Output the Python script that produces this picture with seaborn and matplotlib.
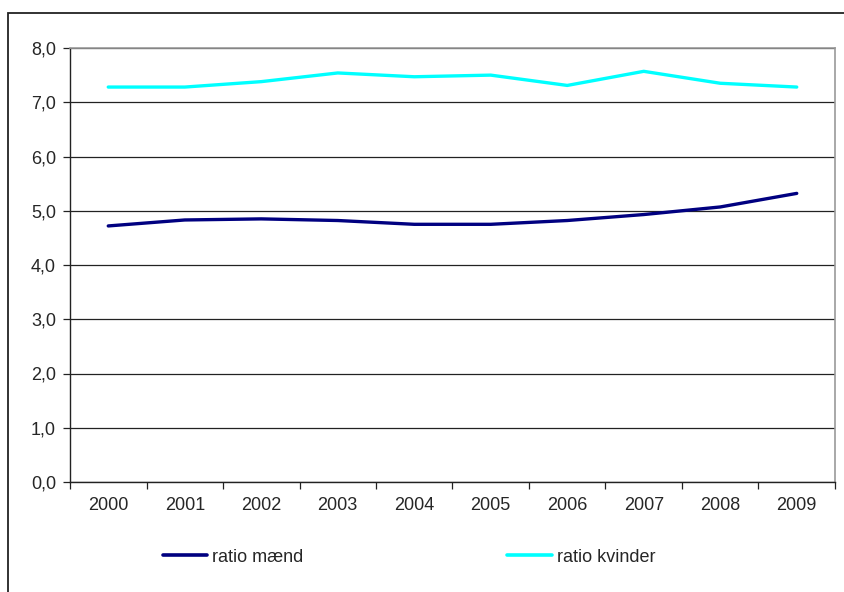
import numpy as np
import pandas as pd
import matplotlib
matplotlib.use('Agg')
import matplotlib.pyplot as plt
import seaborn as sns
from matplotlib.patches import Rectangle
from matplotlib.ticker import FixedLocator, FuncFormatter

sns.set_style('white')
plt.rcParams['font.family'] = ['Liberation Sans', 'DejaVu Sans']

years = ['2000', '2001', '2002', '2003', '2004', '2005', '2006', '2007', '2008', '2009']
ratio_maend = [4.72, 4.83, 4.85, 4.82, 4.75, 4.75, 4.82, 4.93, 5.07, 5.32]
ratio_kvinder = [7.28, 7.28, 7.38, 7.54, 7.47, 7.50, 7.31, 7.57, 7.35, 7.28]
series_names = ['ratio mænd', 'ratio kvinder']
colors = ['#000080', '#00FFFF']

# long format for seaborn
df = pd.DataFrame({
    'pos': list(range(len(years))) * 2,
    'ratio': ratio_maend + ratio_kvinder,
    'serie': [series_names[0]] * len(years) + [series_names[1]] * len(years),
})

fig = plt.figure(figsize=(8.45, 5.92), dpi=100)
ax = fig.add_axes([70/845, 1-482/592, 765/845, 434/592])

sns.lineplot(data=df, x='pos', y='ratio', hue='serie', palette=dict(zip(series_names, colors)),
             linewidth=2.4, ax=ax, legend=False)

ax.set_xlim(-0.5, len(years) - 0.5)
ax.set_ylim(0, 8)
ax.set_xlabel('')
ax.set_ylabel('')

# y axis: gridlines at each whole number, comma decimals
ax.set_yticks(np.arange(0, 9, 1))
ax.yaxis.set_major_formatter(FuncFormatter(lambda v, p: f'{v:.1f}'.replace('.', ',')))
ax.grid(axis='y', color='#222222', linewidth=0.9)
ax.set_axisbelow(True)

# x axis: tick marks between categories, labels centred
ax.xaxis.set_major_locator(FixedLocator(np.arange(-0.5, len(years), 1)))
ax.xaxis.set_major_formatter(FuncFormatter(lambda v, p: ''))
ax.xaxis.set_minor_locator(FixedLocator(np.arange(len(years))))
ax.set_xticklabels(years, minor=True)
ax.tick_params(axis='x', which='major', direction='out', length=5, width=0.9, color='#222222', bottom=True)
ax.tick_params(axis='x', which='minor', length=0, pad=11, labelsize=13)
ax.tick_params(axis='y', direction='out', length=5, width=0.9, color='#222222', left=True, pad=5, labelsize=13)

for side in ['left', 'bottom']:
    ax.spines[side].set_color('#222222')
    ax.spines[side].set_linewidth(1.0)
for side in ['top', 'right']:
    ax.spines[side].set_color('#999999')
    ax.spines[side].set_linewidth(1.2)

handles = [plt.Line2D([], [], color=c, linewidth=2.6) for c in colors]
fig.legend(handles, series_names, loc='center', bbox_to_anchor=(0.484, 1-557/592), ncol=2,
           frameon=False, fontsize=13, handlelength=2.45, handletextpad=0.28, columnspacing=11.3)

# outer chart border (right and bottom cut off)
fig.add_artist(Rectangle((8/845, -0.02), 1.0, 1-13/592+0.02, fill=False, edgecolor='#222222',
                         linewidth=1.3, transform=fig.transFigure, clip_on=False))

fig.savefig('out.png', dpi=100)
